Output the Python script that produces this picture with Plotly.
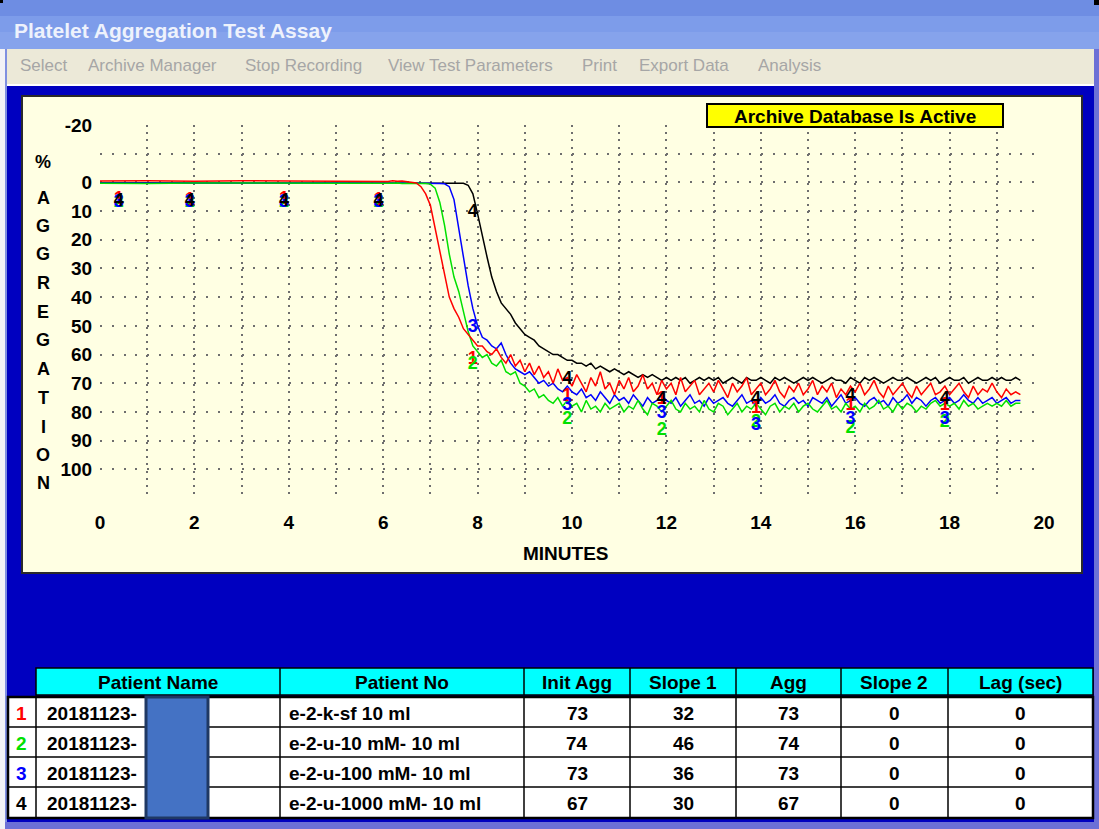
import plotly.graph_objects as go
import numpy as np

# ---------------- data ----------------
minutes = [0.0, 1.0, 2.0, 3.0, 4.0, 5.0] + [round(6.0 + 0.1 * i, 1) for i in range(136)]

agg_1 = [-0.5, -0.6, -0.4, -0.6, -0.5, -0.4,
         -0.5, -0.3, -0.6, -0.4, -0.5, -0.3, -0.2, 0.2,
         1.5, 4, 8, 16, 25, 33, 40, 44, 47, 51, 53, 55,
         57, 57, 59, 60, 58, 61, 63, 60, 64, 62,
         66, 63, 67, 64, 68, 66, 70, 65, 69, 68,
         71, 67, 70, 73, 68, 71, 66, 72, 70, 74,
         69, 72, 68, 73, 71, 67, 72, 70, 74, 69,
         72, 70, 74, 68, 73, 71, 69, 74, 72, 70,
         73, 69, 72, 75, 70, 73, 71, 68, 74, 72,
         70, 74, 72, 69, 73, 75, 71, 73, 70, 74,
         72, 69, 74, 71, 73, 70, 75, 72, 74, 71,
         73, 70, 74, 72, 69, 73, 75, 71, 74, 72,
         70, 73, 75, 71, 74, 72, 70, 74, 73, 71,
         74, 72, 70, 73, 75, 71, 74, 72, 73, 70,
         73, 75, 72, 74, 73, 74]

agg_2 = [0.3, 0.4, 0.2, 0.3, 0.4, 0.3,
         0.3, 0.4, 0.3, 0.2, 0.4, 0.3, 0.3, 0.4, 0.3, 0.4,
         0.6, 2, 7, 15, 25, 33, 38, 45, 52, 57,
         59, 61, 60, 63, 64, 62, 66, 67, 66, 70,
         71, 73, 72, 75, 74, 76, 77, 75, 78, 76,
         78, 77, 80, 76, 79, 78, 80, 77, 79, 78,
         77, 80, 78, 79, 76, 79, 81, 77, 78, 80,
         78, 76, 79, 80, 77, 79, 78, 80, 76, 79,
         80, 77, 78, 81, 79, 77, 80, 78, 79, 77,
         79, 81, 78, 77, 80, 78, 79, 77, 80, 78,
         77, 79, 80, 78, 76, 79, 78, 80, 77, 79,
         78, 80, 77, 79, 78, 76, 79, 78, 80, 77,
         79, 77, 78, 80, 78, 79, 77, 76, 78, 77,
         78, 77, 79, 76, 78, 77, 79, 78, 77, 78,
         77, 78, 76, 78, 77, 77]

agg_3 = [0.2, 0.3, 0.2, 0.2, 0.3, 0.2,
         0.2, 0.3, 0.2, 0.3, 0.2, 0.2, 0.3, 0.2, 0.3, 0.2,
         0.3, 0.2, 0.4, 0.5, 1.5, 6, 16, 27, 36, 44,
         50, 54, 55, 57, 58, 56, 60, 63, 65, 66,
         67, 66, 68, 70, 69, 71, 70, 72, 73, 71,
         73, 74, 72, 75, 74, 76, 73, 75, 77, 74,
         76, 75, 77, 74, 76, 78, 75, 77, 76, 74,
         76, 77, 75, 78, 76, 74, 77, 76, 78, 75,
         77, 76, 75, 77, 78, 76, 74, 77, 76, 78,
         75, 77, 76, 74, 77, 78, 76, 75, 77, 76,
         78, 75, 76, 77, 75, 78, 76, 74, 77, 76,
         75, 77, 78, 76, 75, 77, 76, 78, 75, 77,
         76, 74, 77, 75, 76, 78, 76, 75, 77, 76,
         75, 77, 76, 74, 76, 77, 75, 77, 76, 75,
         77, 76, 75, 77, 76, 76]

agg_4 = [0.1, 0.1, 0.1, 0.1, 0.1, 0.1,
         0.1, 0.1, 0.1, 0.1, 0.1, 0.1, 0.1, 0.1, 0.1, 0.1,
         0.1, 0.1, 0.1, 0.1, 0.1, 0.1, 0.1, 0.3, 1, 4,
         11, 19, 26, 33, 38, 42, 44, 46, 49, 51,
         53, 54, 55, 57, 58, 59, 60, 60, 61, 62,
         62, 63, 63, 64, 63, 65, 64, 65, 66, 65,
         66, 67, 66, 67, 68, 67, 68, 67, 68, 69,
         68, 69, 68, 69, 68, 70, 69, 68, 69, 68,
         69, 68, 70, 69, 68, 69, 70, 68, 69, 69,
         68, 69, 70, 68, 69, 68, 69, 70, 69, 68,
         69, 68, 69, 70, 69, 68, 69, 69, 70, 68,
         69, 70, 68, 69, 68, 69, 70, 69, 68, 69,
         69, 68, 69, 70, 69, 68, 69, 68, 70, 69,
         68, 69, 69, 68, 70, 69, 68, 69, 69, 68,
         69, 68, 69, 69, 68, 69]

series_ids = ["1", "2", "3", "4"]
series_colors = ["#FF0000", "#00E000", "#0000FF", "#000000"]
label_minutes = [0.4, 1.9, 3.9, 5.9, 7.9, 9.9, 11.9, 13.9, 15.9, 17.9]

x_ticks = list(range(0, 21))
y_ticks = [-20, -10, 0, 10, 20, 30, 40, 50, 60, 70, 80, 90, 100, 110]
y_tick_labels = ["-20", "", "0", "10", "20", "30", "40", "50", "60", "70", "80", "90", "100", ""]

table_header = ["Patient Name", "Patient No", "Init Agg", "Slope 1", "Agg", "Slope 2", "Lag (sec)"]
patient_names = ["20181123-", "20181123-", "20181123-", "20181123-"]
patient_nos = ["e-2-k-sf 10 ml", "e-2-u-10 mM- 10 ml", "e-2-u-100 mM- 10 ml", "e-2-u-1000 mM- 10 ml"]
init_agg = [73, 74, 73, 67]
slope_1 = [32, 46, 36, 30]
agg_final = [73, 74, 73, 67]
slope_2 = [0, 0, 0, 0]
lag_sec = [0, 0, 0, 0]

menu_items = ["Select", "Archive Manager", "Stop Recording", "View Test Parameters", "Print", "Export Data", "Analysis"]

# ---------------- helpers ----------------
W, H = 1099, 829
FONT = "Liberation Sans, Arial, sans-serif"


def fx(px):
    return px / W


def fy(py):
    return 1 - py / H


shapes = []
annotations = []


def rect(x0, y0, x1, y1, fill, line_color=None, lw=0, layer="below"):
    shapes.append(dict(type="rect", xref="paper", yref="paper",
                       x0=fx(x0), x1=fx(x1), y0=fy(y1), y1=fy(y0),
                       fillcolor=fill, line=dict(color=line_color or fill, width=lw),
                       layer=layer))


def hline(x0, x1, y, color="black", lw=2):
    shapes.append(dict(type="line", xref="paper", yref="paper",
                       x0=fx(x0), x1=fx(x1), y0=fy(y), y1=fy(y),
                       line=dict(color=color, width=lw), layer="above"))


def vline(x, y0, y1, color="black", lw=2):
    shapes.append(dict(type="line", xref="paper", yref="paper",
                       x0=fx(x), x1=fx(x), y0=fy(y0), y1=fy(y1),
                       line=dict(color=color, width=lw), layer="above"))


def text(x, y, s, size, color="black", bold=True, xanchor="center", family=FONT):
    annotations.append(dict(xref="paper", yref="paper", x=fx(x), y=fy(y),
                            text=f"<b>{s}</b>" if bold else s, showarrow=False,
                            font=dict(size=size, color=color, family=family),
                            xanchor=xanchor, yanchor="middle"))


# ---------------- window chrome ----------------
rect(0, 0, 1099, 16, "#6E8DE3")
rect(0, 16, 1099, 32, "#7D9CEA")
rect(0, 32, 1099, 49, "#86A3EC")
rect(0, 0, 3, 3, "#000000")
rect(1094, 0, 1099, 5, "#000000")
text(12, 30, "Platelet Aggregation Test Assay", 21, color="#EEF2FC", xanchor="left")

rect(5, 49, 1095, 84, "#ECE9D8")
rect(5, 84, 1095, 86, "#FFFFFF")
menu_x = [18, 86, 243, 386, 580, 637, 756]
for mx, item in zip(menu_x, menu_items):
    text(mx, 66, item, 17, color="#A6A6A6", bold=False, xanchor="left")

rect(0, 49, 5, 829, "#F2F2F6")
rect(5, 49, 7, 829, "#7F8FE0")
rect(1094, 49, 1099, 829, "#6C70D6")
rect(5, 822, 1099, 829, "#6C70D6")

# ---------------- chart panel ----------------
rect(22, 96, 1082, 573, "#FFFFE3", "#2A2A2A", 2)

rect(707, 104, 1003, 127, "#FFFF00", "#000000", 2, layer="above")
text(855, 116, "Archive Database Is Active", 19)

# y axis title as stacked letters
y_title = ["%", "A", "G", "G", "R", "E", "G", "A", "T", "I", "O", "N"]
y_title_pos = [162, 198, 226, 254, 283, 312, 340, 369, 398, 427, 455, 483]
for letter, yy in zip(y_title, y_title_pos):
    text(43, yy, letter, 18)
text(566, 553, "MINUTES", 19)

# ---------------- table ----------------
col_edges = [36, 280, 524, 630, 736, 841, 948, 1093]
header_top, header_bot = 668, 695
row_edges = [697, 727, 757, 787, 818]

rect(36, header_top, 1093, header_bot, "#00FFFF", "#000000", 1.5, layer="above")
for ce in col_edges[1:-1]:
    vline(ce, header_top, header_bot, lw=1.5)
for i, h in enumerate(table_header):
    text((col_edges[i] + col_edges[i + 1]) / 2, (header_top + header_bot) / 2 + 1, h, 19)

rect(8, row_edges[0], 1093, row_edges[-1], "#FFFFFF", "#000000", 2.5, layer="above")
for re_ in row_edges[1:-1]:
    hline(8, 1093, re_, lw=1.5)
for ce in col_edges[:-1]:
    vline(ce, row_edges[0], row_edges[-1], lw=1.5)

columns = [init_agg, slope_1, agg_final, slope_2, lag_sec]
for r in range(4):
    yc = (row_edges[r] + row_edges[r + 1]) / 2 + 1
    text(21, yc, series_ids[r], 19, color=series_colors[r])
    text(45, yc, patient_names[r], 19, xanchor="left")
    text(287, yc, patient_nos[r], 19, xanchor="left")
    for c, col in enumerate(columns):
        text((col_edges[c + 2] + col_edges[c + 3]) / 2, yc, str(col[r]), 19)

# redaction block present in the picture
rect(146, 697, 208, 818, "#4472C4", "#1F3864", 3, layer="above")

# ---------------- traces ----------------
series = [agg_1, agg_2, agg_3, agg_4]
LABEL_DROP = 3.5  # labels hang a little below their curve
fig = go.Figure()
for idx in [3, 2, 1, 0]:
    fig.add_trace(go.Scatter(x=minutes, y=series[idx], mode="lines",
                             line=dict(color=series_colors[idx], width=1.5),
                             showlegend=False, hoverinfo="skip"))
for idx in [0, 1, 2, 3]:
    ly = np.interp(label_minutes, minutes, series[idx]) + LABEL_DROP
    fig.add_trace(go.Scatter(x=label_minutes, y=ly, mode="text",
                             text=[f"<b>{series_ids[idx]}</b>"] * len(label_minutes),
                             textposition="bottom center",
                             textfont=dict(size=18, color=series_colors[idx], family=FONT),
                             showlegend=False, hoverinfo="skip"))

fig.update_layout(
    template="none",
    width=W, height=H, autosize=False,
    margin=dict(l=0, r=0, t=0, b=0, pad=0, autoexpand=False),
    paper_bgcolor="#0000C0",
    plot_bgcolor="rgba(0,0,0,0)",
    shapes=shapes,
    annotations=annotations,
    showlegend=False,
    xaxis=dict(domain=[fx(100), fx(1044)], range=[0, 20], automargin=False,
               tickvals=x_ticks,
               ticktext=[f"<b>{v}</b>" if v % 2 == 0 else "" for v in x_ticks],
               tickfont=dict(size=19, color="black", family=FONT),
               ticks="outside", ticklen=7, tickcolor="rgba(0,0,0,0)",
               showgrid=True, gridcolor="#6E6E6E", gridwidth=1.6, griddash="2px,5.2px",
               zeroline=False, showline=False, fixedrange=True),
    yaxis=dict(domain=[fy(498), fy(125)], range=[110, -20], automargin=False,
               tickvals=y_ticks,
               ticktext=[f"<b>{t}</b>" if t else "" for t in y_tick_labels],
               tickfont=dict(size=19, color="black", family=FONT),
               ticks="outside", ticklen=3, tickcolor="rgba(0,0,0,0)",
               showgrid=True, gridcolor="#6E6E6E", gridwidth=1.6, griddash="2px,9.8px",
               zeroline=False, showline=False, fixedrange=True),
)

fig.write_html("out.html", config={"displayModeBar": False},
               post_script="document.body.style.margin='0px';document.body.style.overflow='hidden';")
